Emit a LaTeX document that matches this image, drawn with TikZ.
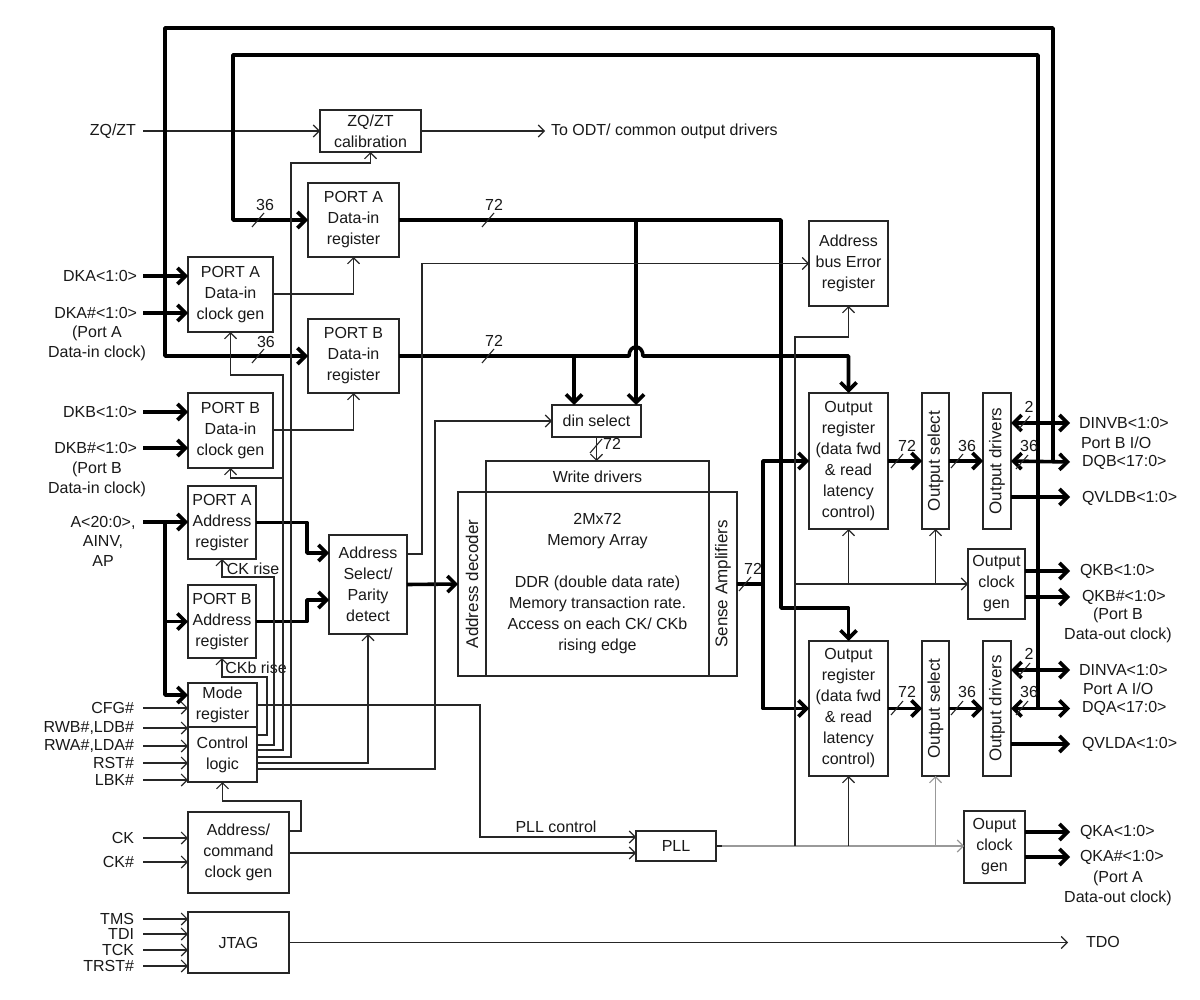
\documentclass[tikz,border=0pt]{standalone}
\usepackage{fontspec}
\setmainfont{Liberation Sans}
\usetikzlibrary{arrows.meta,calc}
\newcommand\fs{\fontsize{16}{21}\selectfont}
\newcommand\fr{\fontsize{17}{21}\selectfont}
\newcommand\fl{\fontsize{16}{20}\selectfont}
\newcommand\fa{\fontsize{16}{19.5}\selectfont}
\tikzset{
  lbl/.style={font=\fs, inner sep=0pt, outer sep=0pt, text=black!90},
  box/.style={draw=black!85, line width=1.2pt, align=center, inner sep=0pt, outer sep=0pt, anchor=north west, font=\fs, text=black!90},
  thinw/.style={line width=1.1pt, draw=black!85},
  grayw/.style={line width=1.1pt, draw=black!40},
  busw/.style={line width=3.6pt, draw=black, line join=round},
  ta/.style={-{Straight Barb[length=6pt,width=12pt]}},
  ba/.style={-{Straight Barb[length=8pt,width=16pt]}},
  bba/.style={{Straight Barb[length=8pt,width=16pt]}-{Straight Barb[length=8pt,width=16pt]}},
}
\newcommand\bx[6]{\node[box, minimum width={(#4)-(#2)}, minimum height={(#5)-(#3)}] (#1) at (#2,#3) {#6};}
\newcommand\busmark[6]{\draw[thinw] ({#2-6},{#3+7}) -- ({#2+6},{#3-7}); \node[lbl] (#1) at (#4,#5) {#6};}
\begin{document}
\begin{tikzpicture}[x=1pt,y=-1pt]
\useasboundingbox (0,0) rectangle (1200,1000);
\fill[white] (0,0) rectangle (1200,1000);

% ---------- boxes ----------
\bx{cal}{320}{110}{421}{152}{ZQ/ZT\\calibration}
\bx{pAdr}{308}{183}{399}{257}{PORT A\\Data-in\\register}
\bx{pBdr}{308}{319}{399}{393}{PORT B\\Data-in\\register}
\bx{pAcg}{188}{257}{273}{332}{PORT A\\Data-in\\clock gen}
\bx{pBcg}{188}{393}{273}{468}{PORT B\\Data-in\\clock gen}
\bx{pAar}{188}{486}{256}{559}{PORT A\\Address\\register}
\bx{pBar}{188}{585}{256}{658}{PORT B\\Address\\register}
\bx{mode}{188}{683}{257}{727}{Mode\\register}
\bx{ctrl}{188}{727}{257}{782}{Control\\logic}
\bx{asel}{329}{535}{407}{634}{Address\\Select/\\Parity\\detect}
\bx{acg}{188}{812}{289}{893}{Address/\\command\\clock gen}
\bx{jtag}{188}{912}{289}{973}{JTAG}
\bx{dins}{552}{405}{641}{437}{din select}
\bx{wd}{486}{461}{709}{492}{Write drivers}
\bx{dec}{458}{492}{486}{676}{\rotatebox{90}{\fr Address decoder}}
\bx{mem}{486}{492}{709}{676}{2Mx72\\Memory Array\\[21pt]DDR (double data rate)\\Memory transaction rate.\\Access on each CK/ CKb\\rising edge}
\bx{sa}{709}{492}{737}{676}{\rotatebox{90}{\fr Sense Amplifiers}}
\bx{abe}{809}{221}{888}{306}{Address\\bus Error\\register}
\bx{orB}{809}{393}{888}{529}{Output\\register\\(data fwd\\\& read\\latency\\control)}
\bx{osB}{922}{393}{949}{529}{\rotatebox{90}{\fr Output select}}
\bx{odB}{983}{393}{1011}{529}{\rotatebox{90}{\fr Output drivers}}
\bx{ocgB}{968}{549}{1025}{619}{Output\\clock\\gen}
\bx{orA}{809}{641}{888}{776}{Output\\register\\(data fwd\\\& read\\latency\\control)}
\bx{osA}{922}{641}{949}{776}{\rotatebox{90}{\fr Output select}}
\bx{odA}{983}{641}{1011}{776}{\rotatebox{90}{\fr Output drivers}}
\bx{ocgA}{964}{811}{1025}{883}{Ouput\\clock\\gen}
\bx{pll}{636}{831}{716}{861}{PLL}

% ---------- left labels ----------
\node[lbl, anchor=east] (zq) at (136,131) {ZQ/ZT};
\node[lbl, anchor=east] (dka) at (137,276) {DKA<1:0>};
\node[lbl, anchor=east] (dkan) at (137,313) {DKA\#<1:0>};
\node[lbl, align=center, font=\fl] (dkanote) at (97,343) {(Port A\\Data-in clock)};
\node[lbl, anchor=east] (dkb) at (137,412) {DKB<1:0>};
\node[lbl, anchor=east] (dkbn) at (137,448) {DKB\#<1:0>};
\node[lbl, align=center, font=\fl] (dkbnote) at (97,479) {(Port B\\Data-in clock)};
\node[lbl, align=center, font=\fa] (abus) at (103,541) {A<20:0>,\\AINV,\\AP};
\node[lbl, anchor=east] (cfg) at (134,708) {CFG\#};
\node[lbl, anchor=east] (rwb) at (134,728) {RWB\#,LDB\#};
\node[lbl, anchor=east] (rwa) at (134,746) {RWA\#,LDA\#};
\node[lbl, anchor=east] (rst) at (134,763) {RST\#};
\node[lbl, anchor=east] (lbk) at (134,780) {LBK\#};
\node[lbl, anchor=east] (ck) at (134,838) {CK};
\node[lbl, anchor=east] (ckn) at (134,862) {CK\#};
\node[lbl, anchor=east] (tms) at (134,919) {TMS};
\node[lbl, anchor=east] (tdi) at (134,934) {TDI};
\node[lbl, anchor=east] (tck) at (134,950) {TCK};
\node[lbl, anchor=east] (trst) at (134,966) {TRST\#};

% ---------- right labels ----------
\node[lbl, anchor=west] (odtl) at (551,131) {To ODT/ common output drivers};
\node[lbl, anchor=west] (dinvb) at (1079,423) {DINVB<1:0>};
\node[lbl, anchor=west] (piob) at (1081,443) {Port B I/O};
\node[lbl, anchor=west] (dqb) at (1082,462) {DQB<17:0>};
\node[lbl, anchor=west] (qvldb) at (1082,498) {QVLDB<1:0>};
\node[lbl, anchor=west] (qkb) at (1080,571) {QKB<1:0>};
\node[lbl, anchor=west] (qkbn) at (1082,597) {QKB\#<1:0>};
\node[lbl, align=center, font=\fl] (qkbnote) at (1118,625) {(Port B\\Data-out clock)};
\node[lbl, anchor=west] (dinva) at (1079,670) {DINVA<1:0>};
\node[lbl, anchor=west] (pioa) at (1083,689) {Port A I/O};
\node[lbl, anchor=west] (dqa) at (1082,708) {DQA<17:0>};
\node[lbl, anchor=west] (qvlda) at (1082,744) {QVLDA<1:0>};
\node[lbl, anchor=west] (qka) at (1080,832) {QKA<1:0>};
\node[lbl, anchor=west] (qkan) at (1080,857) {QKA\#<1:0>};
\node[lbl, align=center, font=\fl] (qkanote) at (1118,888) {(Port A\\Data-out clock)};
\node[lbl, anchor=west] (tdo) at (1086,942) {TDO};
\node[lbl] (ckr) at (253,569) {CK rise};
\node[lbl] (ckbr) at (256,668) {CKb rise};
\node[lbl] (pllc) at (556,827) {PLL control};

% ---------- thin input wires ----------
\draw[thinw,ta] ($(zq.east)+(7,0)$) -- (cal.west);
\draw[thinw,ta] (cal.east) -- (545,131) coordinate (odtE);
\foreach \s/\b in {cfg/mode, rwb/mode, rwa/ctrl, rst/ctrl, lbk/ctrl, ck/acg, ckn/acg, tms/jtag, tdi/jtag, tck/jtag, trst/jtag}
  \draw[thinw,ta] ($(\s.east)+(9,0)$) -- (\b.west|-\s.east);
\draw[thinw,ta] (jtag.east) -- (1068,942.5) coordinate (tdoE);

% ---------- thick input buses ----------
\foreach \s/\b in {dka/pAcg, dkan/pAcg, dkb/pBcg, dkbn/pBcg}
  \draw[busw,ba] ($(\s.east)+(6,0)$) -- (\b.west|-\s.east);
\coordinate (ain) at (143,522);
\coordinate (abr) at (165,522);
\draw[busw,ba] (ain) -- (pAar.west|-ain);
\draw[busw,ba] (abr) |- (pBar.west);
\draw[busw,ba] (abr) |- (mode.west|-0,695);

% ---------- feedback loops from I/O ----------
\coordinate (dqbT) at (1053,462);
\coordinate (dqaT) at (1038,708.5);
\draw[busw,ba] (dqbT) -- (1053,28) -- (165,28) |- (pBdr.west);
\draw[busw,ba] (dqaT) -- (1038,55) -- (233,55) |- (pAdr.west);

% ---------- data-in to output registers / din select ----------
\draw[busw,ba] (pAdr.east) -| (781,608) -| (orA.north);
\draw[busw,ba] (636,220) -- (636,0|-dins.north);
\draw[busw,ba] (pBdr.east) -- (629,356) .. controls (629,344) and (643,344) .. (643,356) -| (orB.north);
\draw[busw,ba] (574,356) -- (574,0|-dins.north);
\draw[thinw,ta] (dins.south) -- (dins.south|-wd.north);
\draw[busw,ba] (asel.east) -- (dec.west);
\draw[busw] (sa.east) -- (763,584) coordinate (sj);
\draw[busw,ba] (sj) |- (orB.west);
\draw[busw,ba] (sj) |- (orA.west);

% address registers to address select
\draw[busw,ba] (pAar.east) -| (307,553) -- (asel.west|-0,553);
\draw[busw,ba] (pBar.east) -| (307,600) -- (asel.west|-0,600);

% ---------- output paths ----------
\draw[busw,ba] (orB.east) -- (osB.west);
\draw[busw,ba] (osB.east) -- (odB.west);
\draw[busw,bba] (odB.east|-0,423) -- (1070,423);
\draw[busw,bba] (odB.east) -- (1070,462);
\draw[busw,ba] (odB.east|-0,497) -- (1070,497);
\draw[busw,ba] (orA.east) -- (osA.west);
\draw[busw,ba] (osA.east) -- (odA.west);
\draw[busw,bba] (odA.east|-0,670) -- (1070,670);
\draw[busw,bba] (odA.east) -- (1070,708.5);
\draw[busw,ba] (odA.east|-0,744) -- (1070,744);
\draw[busw,ba] (ocgB.east|-0,571) -- (1070,571);
\draw[busw,ba] (ocgB.east|-0,597) -- (1070,597);
\draw[busw,ba] (ocgA.east|-0,832) -- (1070,832);
\draw[busw,ba] (ocgA.east|-0,857) -- (1070,857);

% ---------- bus width marks ----------
\busmark{m1}{258}{220}{265}{205}{36}
\busmark{m2}{258}{356}{266}{342}{36}
\busmark{m3}{488}{220}{494}{205}{72}
\busmark{m4}{488}{356}{494}{341}{72}
\busmark{m5}{596}{446}{612}{444}{72}
\busmark{m6}{745}{584}{753}{569}{72}
\busmark{m7}{897}{461}{907}{446}{72}
\busmark{m8}{957}{461}{967}{446}{36}
\busmark{m9}{1024}{423}{1029}{407}{2}
\busmark{m10}{1022}{462}{1029}{446}{36}
\busmark{m11}{897}{708}{907}{692}{72}
\busmark{m12}{957}{708}{967}{692}{36}
\busmark{m13}{1024}{670}{1029}{654}{2}
\busmark{m14}{1022}{708}{1029}{692}{36}

% ---------- control wires ----------
\draw[thinw,ta] (pAcg.east|-0,294) -| (pAdr.south);
\draw[thinw,ta] (pBcg.east|-0,430) -| (pBdr.south);
\draw[thinw,ta] (ctrl.east|-0,735) -| (267,677) -| (pBar.south);
\draw[thinw,ta] (ctrl.east|-0,745) -| (274,577) -| (pAar.south);
\draw[thinw,ta] (ctrl.east|-0,750) -| (283,375) -| (pAcg.south);
\draw[thinw,ta] (283,478) -| (pBcg.south);
\draw[thinw,ta] (ctrl.east|-0,757) -| (291,163) -| (cal.south);
\draw[thinw,ta] (ctrl.east|-0,763) -| (asel.south);
\draw[thinw,ta] (ctrl.east|-0,769) -| (435,421) -- (dins.west);
\draw[thinw,ta] (asel.east|-0,554) -| (422,263.5) -- (abe.west);
\draw[thinw,ta] (acg.east|-0,831) -| (301,801) -| (ctrl.south);
\draw[thinw,ta] (acg.east|-0,853) -- (pll.west|-0,853);
\draw[thinw,ta] (mode.east|-0,705) -| (480,837) -- (pll.west|-0,837);

% ---------- PLL clock distribution ----------
\draw[grayw,ta] (pll.east) -- (ocgA.west|-pll.east);
\draw[thinw] (pll.east) -- (722,846);
\draw[thinw,ta] (795,846) |- (abe.south|-0,337) -- (abe.south);
\draw[thinw,ta] (orA.south|-pll.east) -- (orA.south);
\draw[grayw,ta] (osA.south|-pll.east) -- (osA.south);
\draw[thinw,ta] (795,584) -- (ocgB.west);
\draw[thinw,ta] (orB.south|-ocgB.west) -- (orB.south);
\draw[thinw,ta] (osB.south|-ocgB.west) -- (osB.south);
\end{tikzpicture}
\end{document}
